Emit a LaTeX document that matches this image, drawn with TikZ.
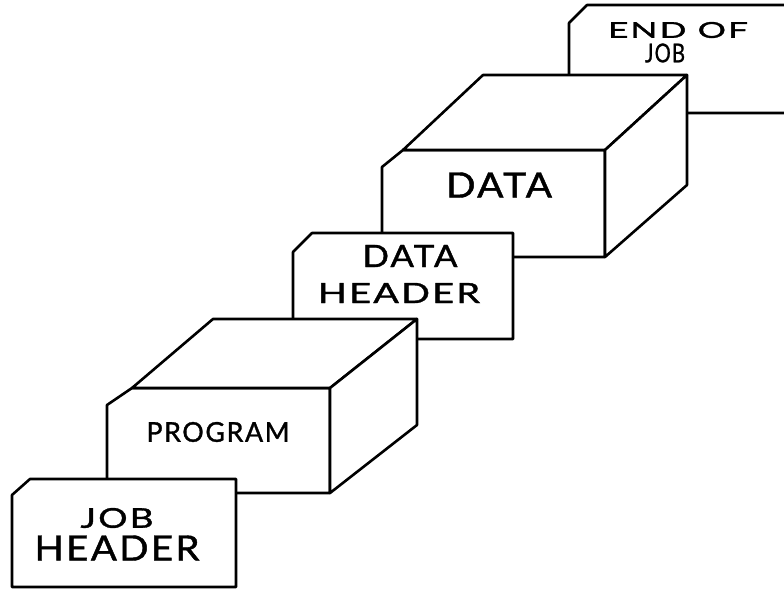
\documentclass[tikz,border=0pt]{standalone}
\usepackage{fontspec}
\newfontfamily\handfont[LetterSpace=6, FakeBold=1.2]{Lato}
% lettering scaled to a given width and total height
\newcommand\lettering[3]{\resizebox*{#1}{#2}{\handfont #3}}
\tikzset{
  outline/.style={draw=black, fill=white, line width=2.6pt, line join=round},
  label/.style={inner sep=0pt, text=black}
}
\begin{document}
\begin{tikzpicture}[x=1pt, y=-1pt]
\useasboundingbox (0,0) rectangle (784,592);
\clip (0,0) rectangle (784,592);

% end-of-job card, running off the right edge
\draw[outline] (569,113) -- (569,23) -- (587,5) -- (800,5) -- (800,113) -- cycle;

% data deck drawn as a block
\draw[outline] (382,257) -- (382,167) -- (403,150) -- (605,150) -- (605,257) -- cycle;
\draw[outline] (403,150) -- (483,75) -- (687,75) -- (605,150) -- cycle;
\draw[outline] (605,150) -- (687,75) -- (687,185) -- (605,257) -- cycle;

% data header card
\draw[outline] (293,339) -- (293,252) -- (312,233) -- (513,233) -- (513,339) -- cycle;

% program deck drawn as a block
\draw[outline] (107,493) -- (107,405) -- (132,388) -- (330,388) -- (330,493) -- cycle;
\draw[outline] (132,388) -- (213,319) -- (417,319) -- (330,388) -- cycle;
\draw[outline] (330,388) -- (417,319) -- (417,425) -- (330,493) -- cycle;

% job header card
\draw[outline] (12,587) -- (12,495) -- (30,479) -- (236,479) -- (236,587) -- cycle;

% lettering
\node[label] (endof)  at (678,30)  {\lettering{140pt}{16pt}{END OF}};
\node[label] (endjob) at (665,53)  {\lettering{40pt}{19pt}{JOB}};
\node[label] (data)   at (499,185) {\lettering{106pt}{25pt}{DATA}};
\node[label] (dhdata) at (410,256) {\lettering{95pt}{22pt}{DATA}};
\node[label] (dhhead) at (399,293) {\lettering{162pt}{20pt}{HEADER}};
\node[label] (prog)   at (218,432) {\lettering{143pt}{20pt}{PROGRAM}};
\node[label] (jhjob)  at (117,518) {\lettering{73pt}{20pt}{JOB}};
\node[label] (jhhead) at (117,548) {\lettering{165pt}{25pt}{HEADER}};
\end{tikzpicture}
\end{document}
